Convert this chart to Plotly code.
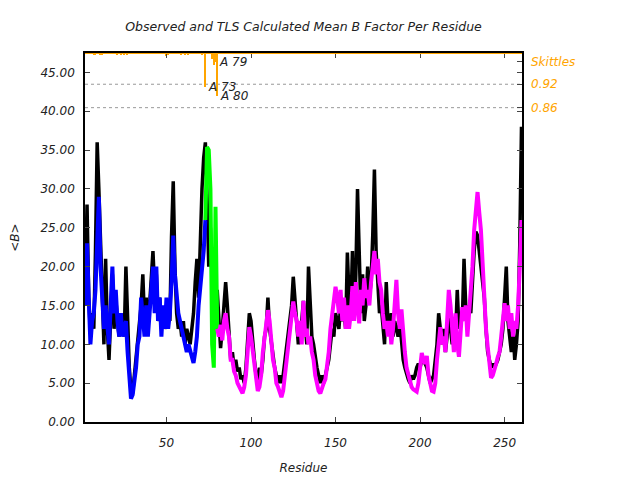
import plotly.graph_objects as go

# ---------------- data ----------------
residues = list(range(2, 261))

observed_b = [
    17, 28, 16, 11.5, 14, 12, 22, 36, 30, 23, 14, 10, 21, 12, 8, 14, 19, 12, 16,      # 2-20
    13, 11, 14, 12, 11, 20, 12, 7, 4, 3.7, 6, 8, 10, 12, 15, 19, 13, 16, 12, 15,      # 21-40
    18, 22, 17, 19, 13, 16, 12, 14, 12, 13, 15, 13, 24, 31, 20, 14, 12, 13, 11, 13,   # 41-60
    10, 12, 11, 10, 12, 14, 18, 21, 16, 24, 30, 34, 36, 29, 20, 25, 18, 22, 12, 17,   # 61-80
    12, 9.5, 12, 16, 18, 15, 12, 8, 9, 7, 8, 6.5, 7, 5.5, 6, 5, 7, 10, 14, 13,        # 81-100
    10, 8, 6, 5, 7, 6, 8, 11, 12, 16, 12, 10, 8, 7, 6, 5, 6, 5, 6, 8,                 # 101-120
    9, 11, 13, 15, 18.7, 16, 14, 10, 12, 13, 15.6, 12, 10, 20, 16, 11, 10, 8, 7, 6,   # 121-140
    5, 6, 5, 6, 7, 8, 10, 12, 11, 14, 13, 12, 15, 13, 14, 12, 21.8, 16, 14, 22,       # 141-160
    13, 19, 30, 20, 14, 19, 13, 15, 20, 16, 18, 24, 32.5, 22, 17, 14, 15, 12, 10, 18, # 161-180
    13, 12, 14, 11, 13, 12, 11, 13, 10, 8, 7, 6, 5.5, 5, 6, 5.5, 6, 7, 7.5, 7,        # 181-200
    8, 8, 7.5, 7, 6, 5, 5.5, 6, 8, 10, 14, 12, 10, 12, 9, 11, 14, 12, 10, 13,         # 201-220
    11, 17, 12, 14, 13, 21, 15, 13, 15, 14, 19, 22, 24.5, 24, 22, 20, 19, 16, 12, 9,  # 221-240
    8, 7, 7.5, 7, 7.5, 8, 9, 10, 12, 16, 20, 13, 11, 9, 12, 8, 10, 13, 23, 38,        # 241-260
]

group1_res = list(range(2, 74))
group1_b = [
    15, 23, 16, 10, 13, 14, 17, 22, 29, 20, 16, 12, 15, 13, 10, 15, 20, 14, 17,       # 2-20
    13, 11, 14, 11, 12, 13, 9, 5, 3, 3.5, 5, 7, 10, 11, 16, 14, 11, 15, 11, 14,       # 21-40
    17, 20, 14, 20, 13, 16, 11, 15, 12, 16, 12, 14, 18, 24, 19, 16, 14, 13, 12, 11,   # 41-60
    10, 9, 10, 9, 8, 7.6, 9, 11, 15, 17, 19, 22, 26,                                  # 61-73
]

group2_res = list(range(73, 81))
group2_b = [26, 35.4, 35, 30, 10, 7, 27.7, 12]

group3_res = list(range(80, 261))
group3_b = [
    12, 11, 12.5, 10.5, 13, 14, 12, 11, 8, 8, 6.5, 6, 5, 4.5, 4, 3.7, 4.5, 6, 9, 12.2, 11,  # 80-100
    9, 7, 5, 4, 4.5, 6, 9, 11, 12, 14.4, 13, 10, 8, 7, 5, 4.5, 3.8, 3.2, 4, 6,              # 101-120
    8, 10, 11, 14, 15.5, 14, 13, 11, 13, 10, 15.6, 11, 12, 10, 11, 9, 8, 6, 5, 4,           # 121-140
    3.7, 4.5, 5, 5.5, 7, 9, 12, 14, 16, 17.4, 16, 14, 17, 13, 16, 12, 15, 12, 14, 17.5,     # 141-160
    13, 18, 15, 12.7, 17, 15, 18.5, 16, 17, 15, 18, 20, 22, 19, 21, 18, 17, 14, 12, 13,     # 161-180
    11, 13, 10, 12, 15, 18.3, 14, 12, 14.5, 11, 9, 7, 6, 5, 4.5, 4.2, 4, 3.9, 5, 7,         # 181-200
    8.9, 8, 7.5, 8.5, 6, 5, 4, 3.9, 5, 8, 10, 12.2, 10, 11, 9, 13, 17, 15, 12, 9,           # 201-220
    14, 10, 8.4, 12, 14.8, 13, 15, 11, 14, 16, 20, 24.7, 28, 29.6, 27, 24.7, 20.5, 15, 12, 9.7,  # 221-240
    7, 5.7, 6, 7, 7.5, 8.4, 9, 11, 13, 15.3, 13, 15, 12, 14, 11, 13, 12, 15, 20, 26,        # 241-260
]

skittles_res = [7, 8, 11, 12, 21, 23, 25, 27, 50, 51, 59, 61, 63, 71, 73, 77, 78, 79, 80]
skittles_val = [0.994, 0.995, 0.994, 0.995, 0.996, 0.996, 0.996, 0.996, 0.993, 0.995,
                0.996, 0.996, 0.996, 0.996, 0.912, 0.985, 0.97, 0.978, 0.89]
skittles_labels = {73: "A 73", 79: "A 79", 80: "A 80"}
skittles_thresholds = [0.92, 0.86]

x_ticks = [50, 100, 150, 200, 250]
y_ticks = [0, 5, 10, 15, 20, 25, 30, 35, 40, 45]

# ---------------- figure ----------------
FONT = "DejaVu Sans"
ORANGE = "#FFA500"
TXT = "#222222"

fig = go.Figure()

fig.add_trace(go.Scatter(x=residues, y=observed_b, mode="lines",
                         line=dict(color="black", width=3.5), name="Observed"))
fig.add_trace(go.Scatter(x=group1_res, y=group1_b, mode="lines",
                         line=dict(color="#0000FF", width=4), name="TLS A1"))
fig.add_trace(go.Scatter(x=group2_res, y=group2_b, mode="lines",
                         line=dict(color="#00FF00", width=4), name="TLS A2"))
fig.add_trace(go.Scatter(x=group3_res, y=group3_b, mode="lines",
                         line=dict(color="#FF00FF", width=4), name="TLS A3"))

fig.add_trace(go.Bar(x=skittles_res, y=[v - 1.0 for v in skittles_val], base=1.0,
                     width=0.9, marker=dict(color=ORANGE, line=dict(width=0)),
                     yaxis="y2", name="Skittles"))

shapes = [dict(type="line", xref="paper", x0=0, x1=1, yref="y2", y0=1.0, y1=1.0,
               line=dict(color=ORANGE, width=2))]
for t in skittles_thresholds:
    shapes.append(dict(type="line", xref="paper", x0=0, x1=1, yref="y2", y0=t, y1=t,
                       line=dict(color="#999999", width=1, dash="dot"), layer="below"))

annotations = []
for r, v in zip(skittles_res, skittles_val):
    if r in skittles_labels:
        annotations.append(dict(x=r, y=v, xref="x", yref="y2", text=skittles_labels[r],
                                showarrow=False, xanchor="left", yanchor="middle", xshift=1,
                                font=dict(family=FONT, size=12, color=TXT, style="italic")))

fig.update_layout(
    width=640, height=480,
    margin=dict(l=85, r=118, t=53, b=58),
    paper_bgcolor="white", plot_bgcolor="white",
    showlegend=False,
    title=dict(text="Observed and TLS Calculated Mean B Factor Per Residue",
               x=0.5, xref="paper", xanchor="center", y=0.945, yanchor="middle",
               font=dict(family=FONT, size=12.5, color=TXT, style="italic")),
    xaxis=dict(range=[1.8, 260.3], tickvals=x_ticks, ticks="inside", ticklen=5,
               mirror="ticks", showline=True, linecolor="black", linewidth=1.5,
               showgrid=False, zeroline=False, automargin=False, ticklabelstandoff=9,
               tickfont=dict(family=FONT, size=12, color=TXT, style="italic"),
               title=dict(text="Residue", standoff=14,
                          font=dict(family=FONT, size=12, color=TXT, style="italic"))),
    yaxis=dict(range=[0, 47.5], tickvals=y_ticks, tickformat=".2f", ticks="inside",
               ticklen=5, mirror="ticks", showline=True, linecolor="black", linewidth=1.5,
               showgrid=False, zeroline=False, automargin=False, ticklabelstandoff=6,
               tickfont=dict(family=FONT, size=12, color=TXT, style="italic"),
               title=dict(text="&lt;B&gt;", standoff=18,
                          font=dict(family=FONT, size=12, color=TXT, style="italic"))),
    yaxis2=dict(overlaying="y", side="right", range=[0.055, 1.0],
                tickvals=[0.86, 0.92, 0.978], ticktext=["0.86", "0.92", "Skittles"],
                ticks="inside", ticklen=5, showline=False, showgrid=False, zeroline=False,
                automargin=False, ticklabelstandoff=8,
                tickfont=dict(family=FONT, size=12, color=ORANGE, style="italic")),
    shapes=shapes,
    annotations=annotations,
    bargap=0,
)

fig.write_html("out.html", config={"displayModeBar": False},
               post_script="document.body.style.margin='0px';")
